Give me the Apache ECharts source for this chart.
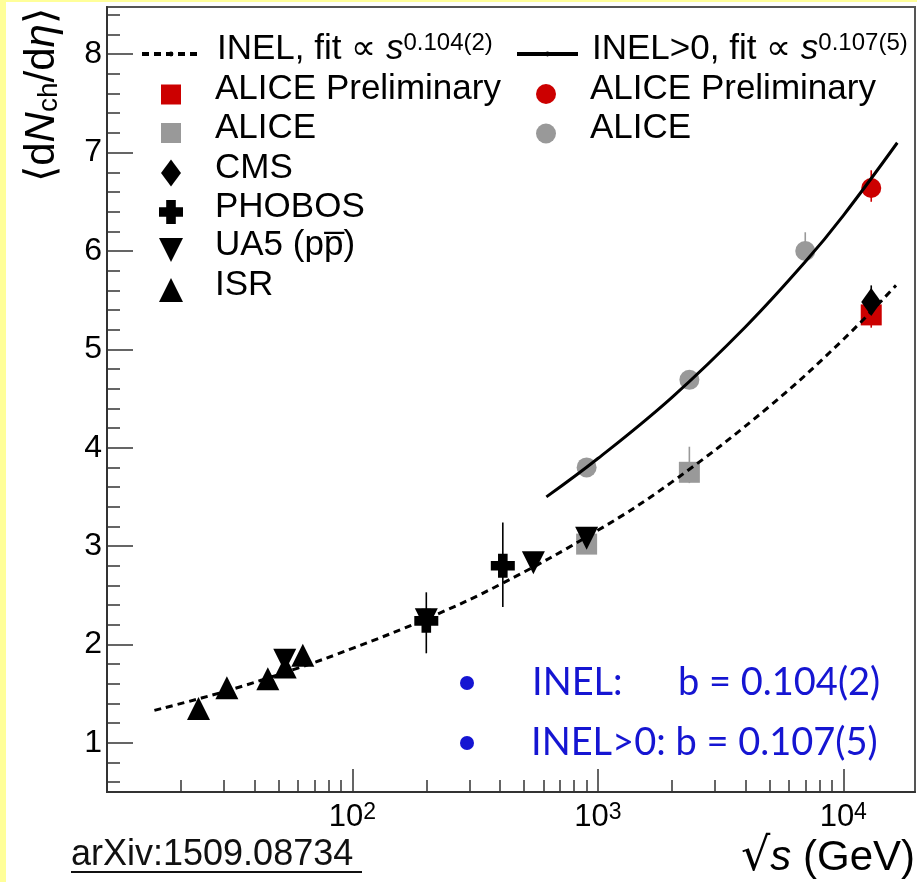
<!DOCTYPE html>
<html><head><meta charset="utf-8">
<script src="https://cdn.jsdelivr.net/npm/echarts@6/dist/echarts.min.js"></script>
<style>html,body{margin:0;padding:0;background:#fff}#c{width:917px;height:882px}</style>
</head><body><div id="c"></div>
<script>
// ---------------- data ----------------
const isrX = [23.6, 30.8, 45.2, 53.2, 62.8];
const isrY = [1.35, 1.56, 1.65, 1.77, 1.89];
const ua5X = [53, 200, 546, 900];
const ua5Y = [1.84, 2.25, 2.83, 3.08];
const phobosX = [200, 410];
const phobosY = [2.24, 2.80];
const phobosLo = [1.91, 2.38];
const phobosHi = [2.53, 3.24];
const cmsX = [13000];
const cmsY = [5.48];
const cmsLo = [5.40];
const cmsHi = [5.65];
const aliceInelX = [900, 2360];
const aliceInelY = [3.02, 3.75];
const aliceInelLo = [2.97, 3.64];
const aliceInelHi = [3.08, 4.01];
const alicePrelInelX = [13000];
const alicePrelInelY = [5.35];
const alicePrelInelLo = [5.22];
const alicePrelInelHi = [5.45];
const aliceInel0X = [900, 2360, 7000];
const aliceInel0Y = [3.80, 4.69, 6.00];
const aliceInel0Lo = [3.77, 4.62, 5.95];
const aliceInel0Hi = [3.83, 4.76, 6.19];
const alicePrelInel0X = [13000];
const alicePrelInel0Y = [6.64];
const alicePrelInel0Lo = [6.50];
const alicePrelInel0Hi = [6.82];
const inelFitX = [15.6, 30, 60, 100, 200, 400, 1000, 2000, 5000, 10000, 16400];
const inelFitY = [1.33, 1.52, 1.76, 1.96, 2.26, 2.61, 3.16, 3.65, 4.42, 5.10, 5.65];
const inel0FitX = [617, 1000, 2000, 4000, 7000, 10000, 16600];
const inel0FitY = [3.50, 3.89, 4.51, 5.23, 5.89, 6.36, 7.10];
const xMajorTicks = [100, 1000, 10000];
const xMinorTicks = [20, 30, 40, 50, 60, 70, 80, 90, 200, 300, 400, 500, 600, 700, 800, 900, 2000, 3000, 4000, 5000, 6000, 7000, 8000, 9000];
const yMajorTicks = [1, 2, 3, 4, 5, 6, 7, 8];
const yMinorTicks = [0.6, 0.8, 1.2, 1.4, 1.6, 1.8, 2.2, 2.4, 2.6, 2.8, 3.2, 3.4, 3.6, 3.8, 4.2, 4.4, 4.6, 4.8, 5.2, 5.4, 5.6, 5.8, 6.2, 6.4, 6.6, 6.8, 7.2, 7.4, 7.6, 7.8, 8.2, 8.4];

// ---------------- style ----------------
const FONT = 'Liberation Sans';
const GREY = '#999999';
const RED = '#cc0000';
const BLACK = '#000000';
const BLUE = '#1515d2';
const CROSS = 'path://M1.5,0H3.5V1.5H5V3.5H3.5V5H1.5V3.5H0V1.5H1.5Z';
const DOWN = 'path://M0,0L2,0L1,2Z';

const pairs = (xs, ys) => xs.map((x, i) => [x, ys[i]]);

function scatter(name, xs, ys, symbol, size, color) {
  return { name, type: 'scatter', data: pairs(xs, ys), symbol, symbolSize: size,
    itemStyle: { color, opacity: 1 }, silent: true, emphasis: { disabled: true } };
}
function errs(xs, lo, hi, color) {
  return { type: 'custom', silent: true, data: xs.map((x, i) => [x, lo[i], hi[i]]),
    encode: { x: 0, y: [1, 2] },
    renderItem: (params, api) => {
      const a = api.coord([api.value(0), api.value(1)]);
      const b = api.coord([api.value(0), api.value(2)]);
      return { type: 'line', shape: { x1: a[0], y1: a[1], x2: b[0], y2: b[1] },
        style: { stroke: color, lineWidth: 1.6 } };
    } };
}

const legendRich = {
  t: { fontSize: 35, fontFamily: FONT, lineHeight: 36, color: BLACK },
  it: { fontSize: 35, fontFamily: FONT, fontStyle: 'italic', lineHeight: 36, color: BLACK },
  sup: { fontSize: 24, fontFamily: FONT, lineHeight: 2, verticalAlign: 'top', color: BLACK }
};
const labelMap = {
  'INEL fit': '{t|INEL, fit ∝ }{it|s}{sup|0.104(2)}',
  'INEL>0 fit': '{t|INEL>0, fit ∝ }{it|s}{sup|0.107(5)}',
  'ALICE Preliminary INEL': '{t|ALICE Preliminary}',
  'ALICE INEL': '{t|ALICE}',
  'CMS': '{t|CMS}',
  'PHOBOS': '{t|PHOBOS}',
  'UA5': '{t|UA5 (pp\u0305)}',
  'ISR': '{t|ISR}',
  'ALICE Preliminary INEL>0': '{t|ALICE Preliminary}',
  'ALICE INEL>0': '{t|ALICE}'
};

function leg(name, left, top, w, h, padLeft, extra) {
  return Object.assign({
    data: [name], left, top, itemWidth: w, itemHeight: h, padding: 0,
    selectedMode: false, symbolKeepAspect: false, itemGap: 0,
    formatter: n => labelMap[n],
    textStyle: { fontFamily: FONT, fontSize: 35, color: BLACK, lineHeight: 36,
      padding: [0, 0, 10, padLeft], rich: legendRich }
  }, extra || {});
}

const option = {
  animation: false,
  backgroundColor: '#ffffff',
  grid: { left: 107, top: 7, right: 2, bottom: 90, show: true, borderColor: '#555',
    borderWidth: 2, outerBoundsMode: 'none' },
  xAxis: [
    { type: 'log', logBase: 10, min: 10, max: 19600, position: 'bottom',
      axisLine: { show: true, lineStyle: { color: '#333', width: 2 } },
      axisTick: { show: true, inside: true, length: 23, customValues: xMajorTicks,
        lineStyle: { color: '#333', width: 1.5 } },
      axisLabel: { show: true, customValues: xMajorTicks, margin: 9,
        formatter: v => '{b|10}{s|' + Math.round(Math.log10(v)) + '}',
        rich: { b: { fontSize: 31, fontFamily: FONT, lineHeight: 32, color: BLACK },
                s: { fontSize: 23, fontFamily: FONT, lineHeight: 10, verticalAlign: 'top', color: BLACK } } },
      splitLine: { show: false }, minorTick: { show: false } },
    { type: 'log', logBase: 10, min: 10, max: 19600, position: 'bottom', gridIndex: 0,
      axisLine: { show: false },
      axisTick: { show: true, inside: true, length: 12, customValues: xMinorTicks,
        lineStyle: { color: '#333', width: 1.5 } },
      axisLabel: { show: false }, splitLine: { show: false } }
  ],
  yAxis: [
    { type: 'value', min: 0.5, max: 8.48, position: 'left',
      axisLine: { show: true, lineStyle: { color: '#333', width: 2 } },
      axisTick: { show: true, inside: true, length: 26, customValues: yMajorTicks,
        lineStyle: { color: '#333', width: 1.5 } },
      axisLabel: { show: true, customValues: yMajorTicks, margin: 5, fontSize: 32,
        fontFamily: FONT, color: BLACK },
      splitLine: { show: false } },
    { type: 'value', min: 0.5, max: 8.48, position: 'left',
      axisLine: { show: false },
      axisTick: { show: true, inside: true, length: 13, customValues: yMinorTicks,
        lineStyle: { color: '#333', width: 1.5 } },
      axisLabel: { show: false }, splitLine: { show: false } }
  ],
  legend: [
    leg('INEL fit', 140, 31, 58, 6, 12, { lineStyle: { width: 4 } }),
    leg('ALICE Preliminary INEL', 161, 71.5, 20, 20, 29),
    leg('ALICE INEL', 161, 110, 20, 20, 29),
    leg('CMS', 161, 150, 20, 27, 29),
    leg('PHOBOS', 159, 189, 24, 24, 27),
    leg('UA5', 159, 227, 24, 24, 27),
    leg('ISR', 159, 267, 24, 24, 27),
    leg('INEL>0 fit', 515, 31, 61, 6, 9, { lineStyle: { width: 4 } }),
    leg('ALICE Preliminary INEL>0', 536, 71, 20, 20, 29),
    leg('ALICE INEL>0', 536, 110.5, 20, 20, 29)
  ],
  series: [
    { name: 'INEL fit', type: 'line', data: pairs(inelFitX, inelFitY), smooth: 0.4,
      symbol: 'none', silent: true, lineStyle: { color: BLACK, width: 3, type: [7, 5] },
      itemStyle: { color: BLACK } },
    { name: 'INEL>0 fit', type: 'line', data: pairs(inel0FitX, inel0FitY), smooth: 0.4,
      symbol: 'none', silent: true, lineStyle: { color: BLACK, width: 3, type: 'solid' },
      itemStyle: { color: BLACK } },
    errs(phobosX, phobosLo, phobosHi, BLACK),
    errs(aliceInelX, aliceInelLo, aliceInelHi, GREY),
    errs(aliceInel0X, aliceInel0Lo, aliceInel0Hi, GREY),
    errs(alicePrelInelX, alicePrelInelLo, alicePrelInelHi, RED),
    errs(alicePrelInel0X, alicePrelInel0Lo, alicePrelInel0Hi, RED),
    errs(cmsX, cmsLo, cmsHi, BLACK),
    scatter('ALICE INEL', aliceInelX, aliceInelY, 'rect', 21, GREY),
    scatter('ALICE Preliminary INEL', alicePrelInelX, alicePrelInelY, 'rect', 21, RED),
    scatter('ALICE INEL>0', aliceInel0X, aliceInel0Y, 'circle', 20, GREY),
    scatter('ALICE Preliminary INEL>0', alicePrelInel0X, alicePrelInel0Y, 'circle', 20, RED),
    scatter('ISR', isrX, isrY, 'triangle', 23, BLACK),
    scatter('UA5', ua5X, ua5Y, DOWN, 23, BLACK),
    scatter('PHOBOS', phobosX, phobosY, CROSS, 24, BLACK),
    scatter('CMS', cmsX, cmsY, 'diamond', [20, 28], BLACK)
  ],
  graphic: [
    { type: 'rect', silent: true, z: -10, shape: { x: 0, y: 0, width: 6, height: 882 }, style: { fill: '#ffff99' } },
    { type: 'rect', silent: true, z: -10, shape: { x: 0, y: 0, width: 917, height: 2 }, style: { fill: '#ffff99' } },
    { type: 'text', silent: true, x: 42, y: 95, rotation: Math.PI / 2,
      style: { text: '{a|⟨d}{i|N}{sub|ch}{a|/d}{i|η}{a|⟩}', align: 'center', verticalAlign: 'middle',
        rich: { a: { fontSize: 42, fontFamily: FONT, lineHeight: 42, fill: BLACK },
                i: { fontSize: 42, fontFamily: FONT, fontStyle: 'italic', lineHeight: 42, fill: BLACK },
                sub: { fontSize: 28, fontFamily: FONT, lineHeight: 4, verticalAlign: 'bottom', fill: BLACK } } } },
    { type: 'text', silent: true, x: 915, y: 858,
      style: { text: '{r|√}{i|s}{a| (GeV)}', align: 'right', verticalAlign: 'middle',
        rich: { a: { fontSize: 42, fontFamily: FONT, fill: BLACK },
                r: { fontSize: 46, fontFamily: 'DejaVu Sans', fill: BLACK },
                i: { fontSize: 42, fontFamily: FONT, fontStyle: 'italic', fill: BLACK } } } },
    { type: 'text', silent: true, x: 71, y: 855,
      style: { text: 'arXiv:1509.08734', font: '36px "Liberation Sans"', fill: '#111',
        align: 'left', verticalAlign: 'middle' } },
    { type: 'line', silent: true, shape: { x1: 71, y1: 872, x2: 362, y2: 872 },
      style: { stroke: '#111', lineWidth: 2 } },
    { type: 'circle', silent: true, shape: { cx: 467, cy: 683, r: 7 }, style: { fill: BLUE } },
    { type: 'circle', silent: true, shape: { cx: 467, cy: 743, r: 7 }, style: { fill: BLUE } },
    { type: 'text', silent: true, x: 532, y: 683,
      style: { text: 'INEL:', font: '38px Lato', fill: BLUE, align: 'left', verticalAlign: 'middle' } },
    { type: 'text', silent: true, x: 678, y: 683,
      style: { text: 'b = 0.104(2)', font: '38px Lato', fill: BLUE, align: 'left', verticalAlign: 'middle' } },
    { type: 'text', silent: true, x: 531, y: 743,
      style: { text: 'INEL>0: b = 0.107(5)', font: '38px Lato', fill: BLUE, align: 'left', verticalAlign: 'middle' } }
  ]
};

const chart = echarts.init(document.getElementById('c'), null, { renderer: 'canvas' });
chart.setOption(option);
</script>
</body></html>
